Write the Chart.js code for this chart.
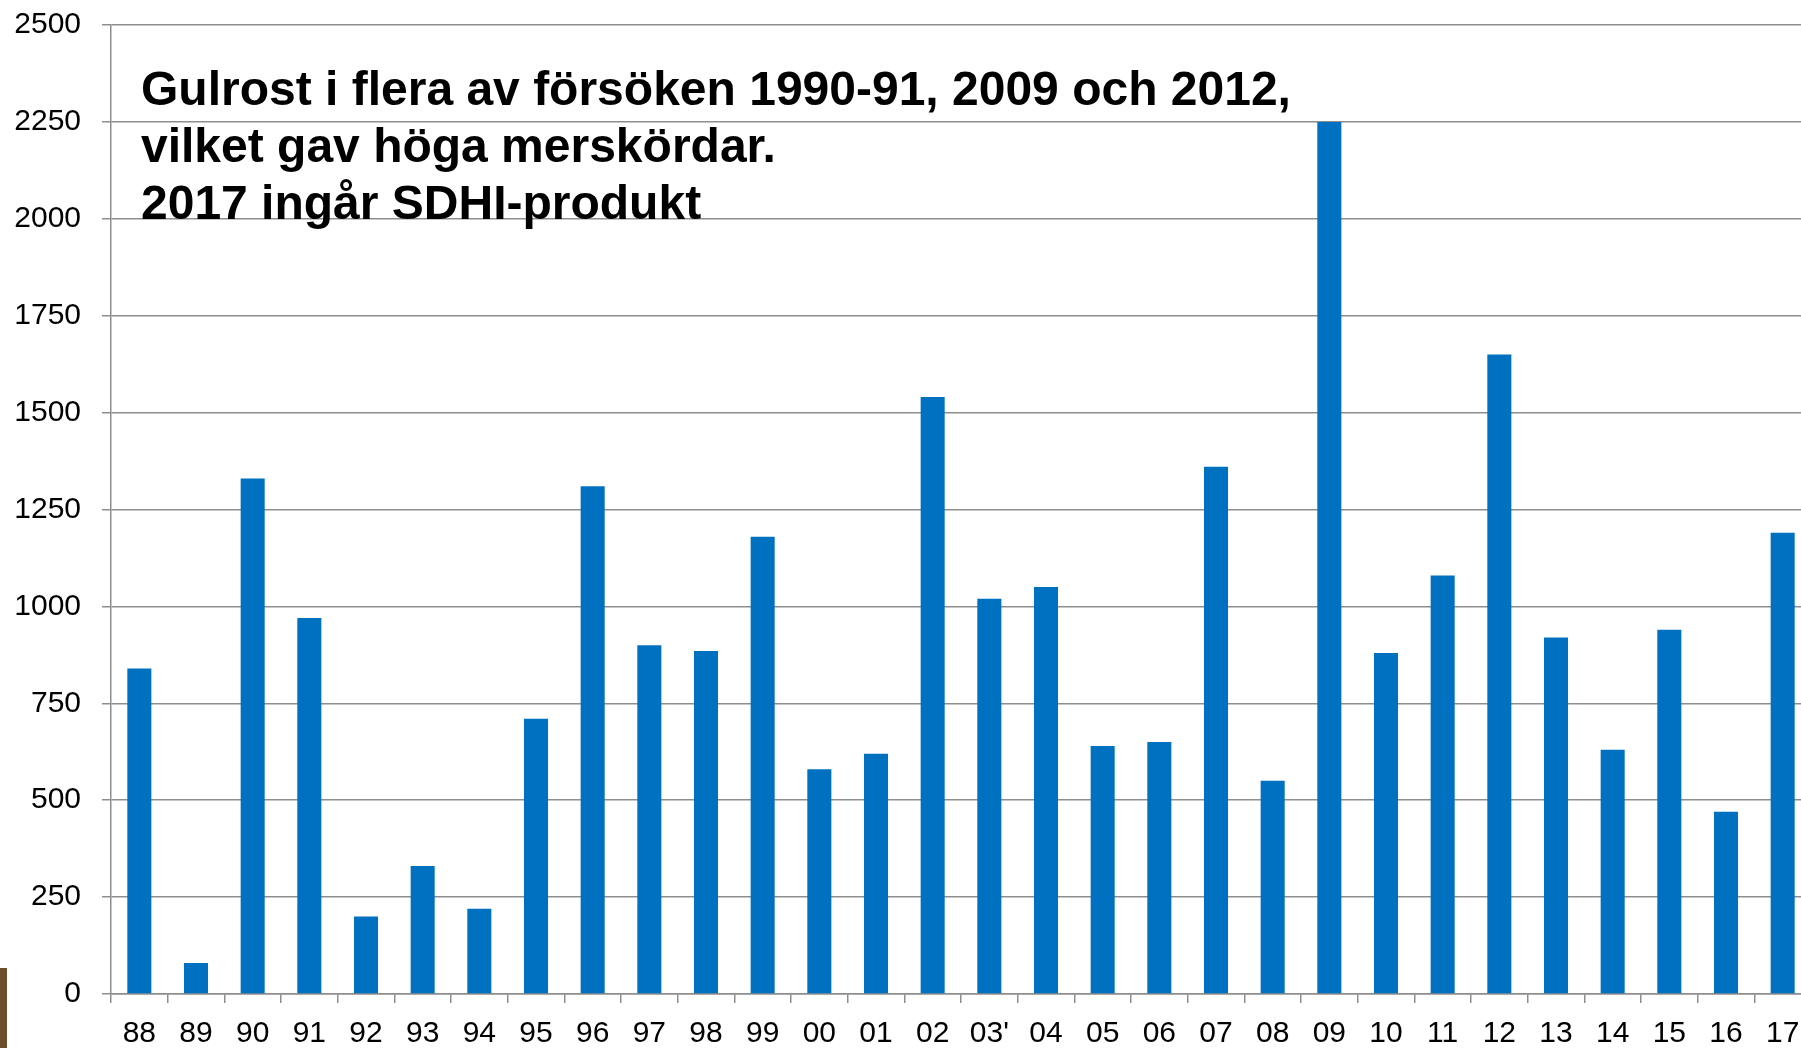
<!DOCTYPE html>
<html>
<head>
<meta charset="utf-8">
<script src="https://cdn.jsdelivr.net/npm/chart.js@4.4.0/dist/chart.umd.min.js"></script>
<style>
  html, body { margin: 0; padding: 0; background: #fff; overflow: hidden; }
  #wrap { position: relative; width: 1812px; height: 1048px; }
  #note {
    position: absolute; left: 141px; top: 60px;
    font: bold 48px "Liberation Sans", Arial, sans-serif;
    line-height: 57px; color: #000; white-space: nowrap;
  }
  #edge { position: absolute; left: 0; top: 968px; width: 7px; height: 80px; background: #6a4f29; }
</style>
</head>
<body>
<div id="wrap">
  <canvas id="yieldChart"></canvas>
  <div id="note">Gulrost i flera av försöken 1990-91, 2009 och 2012,<br>vilket gav höga merskördar.<br>2017 ingår SDHI-produkt</div>
  <div id="edge"></div>
</div>
<script>
// år (x-axeln)
const years = ['88', '89', '90', '91', '92', '93', '94', '95', '96', '97', '98', '99',
  '00', '01', '02', "03'", '04', '05', '06', '07', '08', '09', '10', '11', '12',
  '13', '14', '15', '16', '17'];

// merskörd, kg/ha
const merskord = [840, 80, 1330, 970, 200, 330, 220, 710, 1310, 900, 885, 1180,
  580, 620, 1540, 1020, 1050, 640, 650, 1360, 550, 2250, 880, 1080, 1650,
  920, 630, 940, 470, 1190];

// y-axelns skala
const yTicks = [0, 250, 500, 750, 1000, 1250, 1500, 1750, 2000, 2250, 2500];

const gridColor = '#8e8e8e';
const font = { family: '"Liberation Sans", Arial, sans-serif', size: 30 };

new Chart(document.getElementById('yieldChart'), {
  type: 'bar',
  data: {
    labels: years,
    datasets: [{
      data: merskord,
      backgroundColor: '#0070C0',
      categoryPercentage: 1,
      barPercentage: 0.424
    }]
  },
  options: {
    responsive: true,
    maintainAspectRatio: false,
    animation: false,
    layout: { padding: { top: 25, right: 1, left: 0, bottom: 0 } },
    plugins: {
      legend: { display: false },
      tooltip: { enabled: false }
    },
    scales: {
      x: {
        grid: { drawOnChartArea: false, drawTicks: true, tickLength: 9, color: gridColor, lineWidth: 1.5 },
        border: { color: gridColor, width: 1.5 },
        ticks: { color: '#000', font: font, padding: 13, maxRotation: 0, autoSkip: false },
        afterFit: function (s) { s.height = 54; s.paddingLeft = 0; s.paddingRight = 0; }
      },
      y: {
        min: yTicks[0],
        max: yTicks[yTicks.length - 1],
        grid: { color: gridColor, lineWidth: 1.5, tickLength: 9 },
        border: { color: gridColor, width: 1.5 },
        ticks: {
          stepSize: yTicks[1] - yTicks[0], color: '#000', font: font, padding: 21,
          callback: function (v) { return String(v); }
        },
        afterFit: function (s) { s.width = 111; s.paddingTop = 0; s.paddingBottom = 0; }
      }
    }
  }
});
</script>
</body>
</html>
